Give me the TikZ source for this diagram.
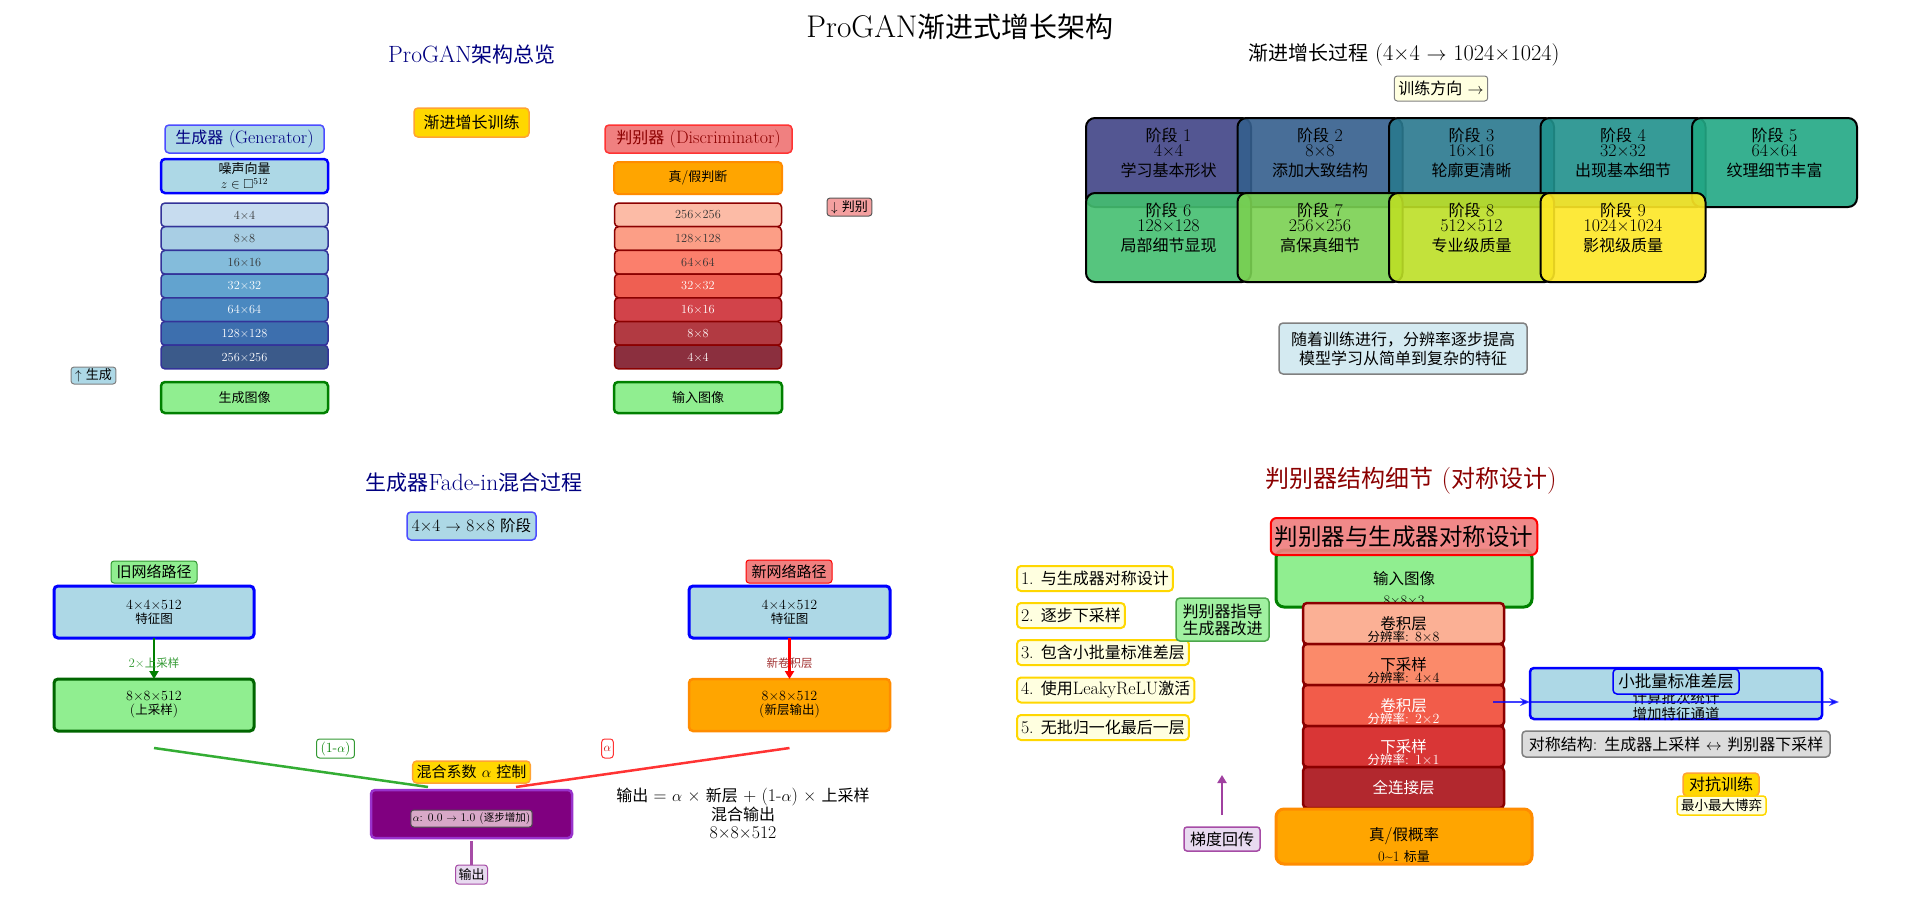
\RequirePackage{fix-cm}
\documentclass[tikz,border=0pt]{standalone}
\usepackage{amssymb}
\usepackage{fontspec}
\setmainfont{Latin Modern Roman}[Scale=1.12]
\usetikzlibrary{positioning,arrows.meta}

\newfontfamily\cjkfont{Noto Sans CJK SC}
\XeTeXinterchartokenstate=1
\newXeTeXintercharclass\CJKclass
\count255="3000
\loop
  \XeTeXcharclass\count255=\CJKclass
  \advance\count255 by 1
\ifnum\count255<"A000 \repeat
\count255="FF00
\loop
  \XeTeXcharclass\count255=\CJKclass
  \advance\count255 by 1
\ifnum\count255<"FFF0 \repeat
\XeTeXinterchartoks 0 \CJKclass = {\begingroup\cjkfont}
\XeTeXinterchartoks 4095 \CJKclass = {\begingroup\cjkfont}
\XeTeXinterchartoks \CJKclass 0 = {\endgroup}
\XeTeXinterchartoks \CJKclass 4095 = {\endgroup}

\newcommand\fsz[2]{\fontsize{#1}{#2}\selectfont}

\definecolor{navyc}{HTML}{000080}
\definecolor{dredc}{HTML}{8B0000}
\definecolor{lblue}{HTML}{ADD8E6}
\definecolor{lgreen}{HTML}{90EE90}
\definecolor{dgreen}{HTML}{008000}
\definecolor{lcoral}{HTML}{F08080}
\definecolor{goldc}{HTML}{FFD700}
\definecolor{orangec}{HTML}{FFA500}
\definecolor{dorange}{HTML}{FF8C00}
\definecolor{lyellow}{HTML}{FFFFE0}
\definecolor{purplec}{HTML}{800080}
\definecolor{violetc}{HTML}{9932CC}
\definecolor{lavend}{HTML}{E8DAF0}
\definecolor{plumc}{HTML}{D8A8C8}
\definecolor{notec}{HTML}{D4EAF1}
\definecolor{greyc}{HTML}{DCDCDC}
% generator / discriminator stacks
\definecolor{gb1}{HTML}{C7DCEF}
\definecolor{gb2}{HTML}{A8CEE4}
\definecolor{gb3}{HTML}{84BCDB}
\definecolor{gb4}{HTML}{62A3CF}
\definecolor{gb5}{HTML}{4A88C0}
\definecolor{gb6}{HTML}{3D6FAE}
\definecolor{gb7}{HTML}{3B5A8A}
\definecolor{rd1}{HTML}{FCBBA6}
\definecolor{rd2}{HTML}{FC9E86}
\definecolor{rd3}{HTML}{FB7F6C}
\definecolor{rd4}{HTML}{EF5F52}
\definecolor{rd5}{HTML}{D2434A}
\definecolor{rd6}{HTML}{B23A42}
\definecolor{rd7}{HTML}{8B2F3E}
\definecolor{rl1}{HTML}{FBB095}
\definecolor{rl2}{HTML}{FB8A6A}
\definecolor{rl3}{HTML}{F25C4A}
\definecolor{rl4}{HTML}{D93636}
\definecolor{rl5}{HTML}{B2282E}
% growth stages
\definecolor{st1}{HTML}{414487}
\definecolor{st2}{HTML}{355F8D}
\definecolor{st3}{HTML}{2A788E}
\definecolor{st4}{HTML}{21918C}
\definecolor{st5}{HTML}{22A884}
\definecolor{st6}{HTML}{44BF70}
\definecolor{st7}{HTML}{7AD151}
\definecolor{st8}{HTML}{BDDF26}
\definecolor{st9}{HTML}{FDE725}

\begin{document}
\begin{tikzpicture}[
  x=1pt, y=-1pt,
  box/.style={draw, rounded corners=4pt, align=center, line width=1.5pt,
              inner xsep=4pt, inner ysep=2pt, outer sep=0pt},
  tag/.style={box, line width=1pt, rounded corners=3pt, inner ysep=1pt},
  genlayer/.style={box, draw=navyc!80, minimum width=167pt,
                   minimum height=23.7pt, font=\fsz{11}{13}},
  dislayer/.style={genlayer, draw=dredc},
  detlayer/.style={box, draw=dredc, line width=2.5pt, minimum width=201pt,
                   minimum height=41pt, font=\fsz{15.5}{18}},
  sub/.style={anchor=south, inner sep=1pt, font=\fsz{12.5}{14}},
  goldbox/.style={box, fill=goldc, draw=dorange!80},
  listbox/.style={box, fill=lyellow, draw=goldc, line width=2pt,
                  minimum height=25pt, font=\fsz{16}{19}, anchor=west},
  stagebox/.style={draw=black, line width=2pt, rounded corners=9pt,
                   minimum width=165pt, minimum height=89pt,
                   fill opacity=0.9, text opacity=1},
  stagetext/.style={anchor=north, yshift=-7pt, align=center,
                    font=\fsz{16}{15}, text opacity=1},
  sectitle/.style={font=\fsz{21}{25}, text=navyc},
  flow/.style={line width=2.5pt, -{Triangle[length=8pt,width=9pt]}},
  blend/.style={line width=2.5pt, opacity=0.8},
  arrowb/.style={line width=2.5pt, blue, opacity=0.75,
                 -{Stealth[length=10pt,width=8pt]}},
]
\fill[white] (0,0) rectangle (1920,902);
\useasboundingbox (0,0) rectangle (1920,902);

\node[font=\fsz{28}{33}] (title) at (960,27) {ProGAN渐进式增长架构};

% overview
\node[sectitle] (ovt) at (472,55) {ProGAN架构总览};
\node[box, fill=lblue, draw=blue!70, text=navyc, minimum width=159pt,
      minimum height=28pt, font=\fsz{16}{19}] (gent) at (244.5,139) {生成器 (Generator)};
\node[goldbox, minimum width=115pt, minimum height=29pt,
      font=\fsz{16}{19}] (prog) at (471.5,122.5) {渐进增长训练};
\node[box, fill=lblue, draw=blue, line width=2.5pt, minimum width=167pt,
      minimum height=34pt, font=\fsz{13}{15}] (noise) at (244.5,176)
      {噪声向量\\{\fsz{13}{14}$z\in\square^{512}$}};
\node[genlayer, fill=gb1, text=black!80] (g1) at (244.5,214.85) {4×4};
\node[genlayer, fill=gb2, text=black!80, below=0pt of g1] (g2) {8×8};
\node[genlayer, fill=gb3, text=black!80, below=0pt of g2] (g3) {16×16};
\node[genlayer, fill=gb4, text=white, below=0pt of g3] (g4) {32×32};
\node[genlayer, fill=gb5, text=white, below=0pt of g4] (g5) {64×64};
\node[genlayer, fill=gb6, text=white, below=0pt of g5] (g6) {128×128};
\node[genlayer, fill=gb7, text=white, below=0pt of g6] (g7) {256×256};
\node[box, fill=lgreen, draw=dgreen, line width=2.5pt, minimum width=167pt,
      minimum height=31pt, font=\fsz{13}{15}] (genimg) at (244.5,397.5) {生成图像};
\node[tag, fill=lblue, draw=gray, minimum height=17pt,
      font=\fsz{13}{15}] (genup) at (93.5,375.5) {$\uparrow$ 生成};

\node[box, fill=lcoral, draw=red!80, text=dredc, minimum width=187pt,
      minimum height=28pt, font=\fsz{16}{19}] (dist) at (698.5,139) {判别器 (Discriminator)};
\node[box, fill=orangec, draw=dorange, line width=2pt, minimum width=168pt,
      minimum height=32pt, font=\fsz{13}{15}] (judge) at (698,178) {真/假判断};
\node[dislayer, fill=rd1, text=black!80] (d1) at (698,214.85) {256×256};
\node[dislayer, fill=rd2, text=black!80, below=0pt of d1] (d2) {128×128};
\node[dislayer, fill=rd3, text=black!80, below=0pt of d2] (d3) {64×64};
\node[dislayer, fill=rd4, text=white, below=0pt of d3] (d4) {32×32};
\node[dislayer, fill=rd5, text=white, below=0pt of d4] (d5) {16×16};
\node[dislayer, fill=rd6, text=white, below=0pt of d5] (d6) {8×8};
\node[dislayer, fill=rd7, text=white, below=0pt of d6] (d7) {4×4};
\node[box, fill=lgreen, draw=dgreen, line width=2.5pt, minimum width=168pt,
      minimum height=31pt, font=\fsz{13}{15}] (disimg) at (698,397.5) {输入图像};
\node[tag, fill=lcoral!75, draw=gray!70!black, minimum height=18pt,
      font=\fsz{13}{15}] (disdown) at (849.5,207) {$\downarrow$ 判别};

% growth stages
\node[font=\fsz{20}{24}] (grt) at (1404,55) {渐进增长过程 (4×4 $\rightarrow$ 1024×1024)};
\node[tag, fill=lyellow, draw=gray, minimum height=25pt,
      font=\fsz{16}{19}] (dir) at (1441,88.5) {训练方向 $\rightarrow$};
\foreach \i/\cx/\cy/\res/\desc in {
    1/1168.5/162.5/4×4/学习基本形状, 2/1320/162.5/8×8/添加大致结构,
    3/1471.5/162.5/16×16/轮廓更清晰, 4/1623/162.5/32×32/出现基本细节,
    5/1774.5/162.5/64×64/纹理细节丰富, 6/1168.5/237.5/128×128/局部细节显现,
    7/1320/237.5/256×256/高保真细节, 8/1471.5/237.5/512×512/专业级质量,
    9/1623/237.5/1024×1024/影视级质量}
  \node[stagebox, fill=st\i, label={[stagetext]north:阶段 \i\\\res\\[5pt]\desc}]
    (s\i) at (\cx,\cy) {};
\node[box, fill=notec, draw=gray, minimum width=248pt, minimum height=51pt,
      font=\fsz{16}{19}] (note) at (1403,348.5)
      {随着训练进行，分辨率逐步提高\\模型学习从简单到复杂的特征};

% fade-in
\node[sectitle] (fadet) at (474,483) {生成器Fade-in混合过程};
\node[box, fill=lblue, draw=blue!70, minimum width=129pt, minimum height=28pt,
      font=\fsz{15.5}{18}] (phase) at (471.5,526) {4×4 $\rightarrow$ 8×8 阶段};
\node[tag, fill=lgreen, draw=dgreen!80, minimum width=86pt, minimum height=22pt,
      font=\fsz{15}{18}] (oldt) at (154,572) {旧网络路径};
\node[box, fill=lblue, draw=blue, line width=3pt, minimum width=200pt,
      minimum height=52pt, font=\fsz{12.5}{14}] (old) at (154,612) {4×4×512\\特征图};
\node[box, fill=lgreen, draw=dgreen!80!black, line width=3pt, minimum width=200pt,
      minimum height=52pt, font=\fsz{12.5}{14}] (up) at (154,705) {8×8×512\\(上采样)};
\draw[flow, dgreen] (old) -- node[pos=0.62, font=\fsz{11.5}{13}, text=dgreen!80] {2×上采样} (up);
\node[tag, fill=lcoral, draw=red, minimum width=86pt, minimum height=23pt,
      font=\fsz{15}{18}] (newt) at (789,571.5) {新网络路径};
\node[box, fill=lblue, draw=blue, line width=3pt, minimum width=201pt,
      minimum height=52pt, font=\fsz{12.5}{14}] (new) at (789.5,612) {4×4×512\\特征图};
\node[box, fill=orangec, draw=dorange, line width=2.5pt, minimum width=201pt,
      minimum height=52pt, font=\fsz{12.5}{14}] (newout) at (789.5,705) {8×8×512\\(新层输出)};
\draw[flow, red] (new) -- node[pos=0.62, font=\fsz{11.5}{13}, text=dredc!80] {新卷积层} (newout);
\node[tag, fill=white, draw=dgreen!80, text=dgreen, minimum height=19pt,
      font=\fsz{12.5}{14}] (wold) at (335.5,748.5) {(1-$\alpha$)};
\node[tag, fill=white, draw=red!80, text=red!80!black, minimum height=19pt,
      inner xsep=2pt, font=\fsz{12}{14}] (wnew) at (607.5,748.5) {$\alpha$};
\node[goldbox, minimum width=117pt, minimum height=22pt,
      font=\fsz{15}{18}] (mixctl) at (471.5,772) {混合系数 $\alpha$ 控制};
\coordinate (mixL) at (428,787);
\coordinate (mixR) at (516,787);
\draw[blend, green!60!black] ([yshift=-17pt]up.south) -- (mixL);
\draw[blend, red] ([yshift=-17pt]newout.south) -- (mixR);
\node[box, fill=purplec, draw=violetc, line width=2.5pt, minimum width=201pt,
      minimum height=48pt] (mix) at (471.5,814) {};
\node[tag, fill=plumc, draw=black!70, minimum height=17pt, inner xsep=2pt,
      font=\fsz{10.5}{12}] (mixval) at (471.5,818.5) {$\alpha$: 0.0 $\rightarrow$ 1.0 (逐步增加)};
\node[tag, fill=lavend, draw=purplec!70, minimum height=19pt, inner xsep=3pt,
      font=\fsz{13}{15}] (outp) at (471.5,874.5) {输出};
\draw[line width=2.5pt, purplec!70, shorten <=3pt] (mix) -- (outp);
\node[align=center, font=\fsz{16}{18.5}] (formula) at (743,813.5)
  {输出 = $\alpha$ × 新层 + (1-$\alpha$) × 上采样\\混合输出\\8×8×512};

% discriminator detail
\node[font=\fsz{24}{28}, text=dredc] (dett) at (1411,481) {判别器结构细节 (对称设计)};
\node[box, fill=lgreen, draw=dgreen, line width=3pt, rounded corners=8pt,
      minimum width=256pt, minimum height=57pt, font=\fsz{15.5}{18},
      label={[sub, font=\fsz{13}{15}]south:8×8×3}] (din) at (1404,578.5) {输入图像};
\node[box, fill=lcoral, fill opacity=0.92, text opacity=1, draw=red, line width=2pt,
      rounded corners=6pt, minimum width=262pt, minimum height=37pt,
      font=\fsz{23.5}{27}] (dtop) at (1404,536.5) {判别器与生成器对称设计};
\node[detlayer, fill=rl1, label={[sub]south:分辨率: 8×8}] (l1) at (1403.5,623.5) {卷积层};
\node[detlayer, fill=rl2, below=0pt of l1, label={[sub]south:分辨率: 4×4}] (l2) {下采样};
\node[detlayer, fill=rl3, text=white, below=0pt of l2,
      label={[sub, text=white]south:分辨率: 2×2}] (l3) {卷积层};
\node[detlayer, fill=rl4, text=white, below=0pt of l3,
      label={[sub, text=white]south:分辨率: 1×1}] (l4) {下采样};
\node[detlayer, fill=rl5, text=white, below=0pt of l4] (l5) {全连接层};
\node[box, fill=orangec, draw=dorange, line width=3pt, rounded corners=8pt,
      minimum width=256pt, minimum height=55pt, font=\fsz{15.5}{18},
      label={[sub, font=\fsz{13}{15}]south:0\textasciitilde1 标量}] (prob) at (1404,836.5) {真/假概率};

\node[listbox] (n1) at (1017,578.5) {1. 与生成器对称设计};
\node[listbox] (n2) at (1017,615.5) {2. 逐步下采样};
\node[listbox] (n3) at (1017,652.5) {3. 包含小批量标准差层};
\node[listbox] (n4) at (1017,690) {4. 使用LeakyReLU激活};
\node[listbox] (n5) at (1017,727.5) {5. 无批归一化最后一层};
\node[box, fill=lgreen!85, draw=dgreen!70, minimum width=93pt, minimum height=43pt,
      font=\fsz{16}{17}] (guide) at (1222.5,619.5) {判别器指导\\生成器改进};
\node[tag, fill=lavend, draw=purplec!70, line width=1.5pt, minimum width=76pt,
      minimum height=24pt, font=\fsz{16}{19}] (grad) at (1222,839) {梯度回传};
\coordinate (gradtip) at (1222,775);
\draw[flow, purplec!75, shorten <=12pt] (grad) -- (gradtip);

\node[box, fill=lblue, draw=blue, line width=2.5pt, minimum width=292pt, minimum height=51pt,
      label={[anchor=south, align=center, yshift=-3pt, inner sep=1pt,
              font=\fsz{14.5}{16.5}]south:计算批次统计\\增加特征通道}] (mb) at (1676,693.5) {};
\coordinate (mbin) at (1493,702);
\coordinate (mbout) at (1839,702);
\draw[arrowb] (mbin) -- (mbin -| mb.west);
\draw[arrowb] (mbin -| mb.west) -- (mbout);
\node[box, fill=lblue, draw=blue, minimum width=126pt, minimum height=25pt,
      font=\fsz{16.5}{19}] (mbt) at (1676,681.5) {小批量标准差层};
\node[box, fill=greyc, draw=gray, minimum width=308pt, minimum height=26pt,
      font=\fsz{16}{19}] (symm) at (1676,744) {对称结构: 生成器上采样 $\leftrightarrow$ 判别器下采样};
\node[goldbox, minimum width=76pt, minimum height=23pt,
      font=\fsz{16}{19}] (adv) at (1721,784.5) {对抗训练};
\node[tag, fill=lyellow, draw=goldc, line width=1.5pt, minimum width=89pt,
      minimum height=19pt, font=\fsz{13.5}{15}] (minmax) at (1721.5,805.5) {最小最大博弈};
\end{tikzpicture}
\end{document}
